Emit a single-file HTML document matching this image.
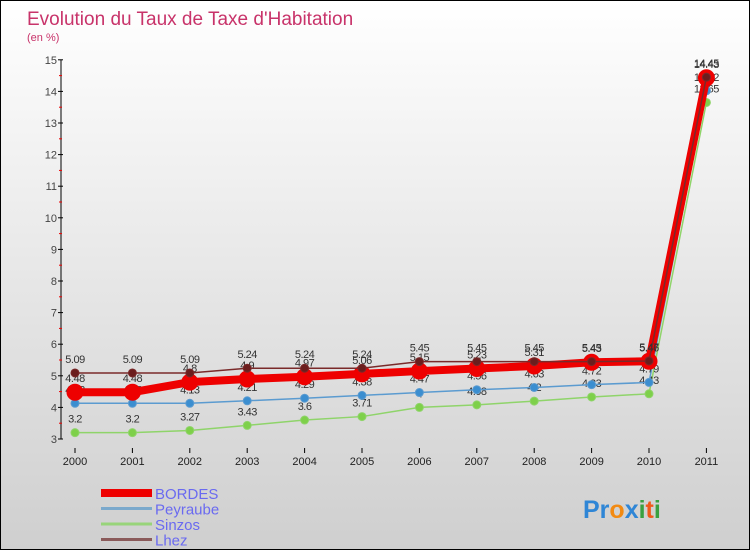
<!DOCTYPE html>
<html><head><meta charset="utf-8"><style>
body{margin:0;width:750px;height:550px;overflow:hidden;font-family:"Liberation Sans",sans-serif}
#wrap{position:relative;width:748px;height:548px;border:1px solid #000;background:linear-gradient(#ffffff,#cfcfcf)}
</style></head><body>
<div id="wrap">
<svg id="chart" width="748" height="548" style="position:absolute;left:0;top:0"></svg>
</div>
<script>
const years=["2000","2001","2002","2003","2004","2005","2006","2007","2008","2009","2010","2011"];
const bordes=[4.48,4.48,4.8,4.9,4.97,5.06,5.15,5.23,5.31,5.43,5.46,14.43];
const peyraube=[4.13,4.13,4.13,4.21,4.29,4.38,4.47,4.56,4.63,4.72,4.79,14.02];
const sinzos=[3.2,3.2,3.27,3.43,3.6,3.71,4,4.08,4.2,4.33,4.43,13.65];
const lhez=[5.09,5.09,5.09,5.24,5.24,5.24,5.45,5.45,5.45,5.45,5.47,14.45];
const yTicks=[3,4,5,6,7,8,9,10,11,12,13,14,15];
const seriesNames=["BORDES","Peyraube","Sinzos","Lhez"];

const NS="http://www.w3.org/2000/svg";
const svg=document.getElementById('chart');
function X(i){return 74+i*57.4;}
function Y(v){return 438-(v-3)*31.6;}
function el(t,a,p){const e=document.createElementNS(NS,t);for(const k in a)e.setAttribute(k,a[k]);(p||svg).appendChild(e);return e;}

let t=el('text',{x:26,y:24,'font-size':19,fill:'#c8336a'});


t.textContent="Evolution du Taux de Taxe d'Habitation";
t=el('text',{x:26,y:40,'font-size':11,fill:'#c8336a'});


t.textContent="(en %)";

// y axis
let ax=el('line',{x1:60,y1:Y(15),x2:60,y2:Y(3),stroke:'#000'});


yTicks.forEach(v=>{
  el('line',{x1:57,x2:62,y1:Y(v),y2:Y(v),stroke:'#000'});
  const tx=el('text',{x:56,y:Y(v)+4,'font-size':11,fill:'#444','text-anchor':'end'});
  
  
  tx.textContent=v;
  if(v<15) el('line',{x1:58,x2:61,y1:Y(v+0.5),y2:Y(v+0.5),stroke:'#e00'});
});
years.forEach((y,i)=>{
  el('line',{x1:X(i),x2:X(i),y1:447,y2:452,stroke:'#000'});
  const tx=el('text',{x:X(i),y:464,'font-size':11,fill:'#222','text-anchor':'middle'});
  
  
  tx.textContent=y;
});

function series(data,color,w,r,dot,name){
  const g=el('g',{});
  
  
  const pl=el('polyline',{points:data.map((v,i)=>X(i)+','+Y(v)).join(' '),fill:'none',stroke:color,'stroke-width':w},g);
  
  
  data.forEach((v,i)=>{
    const c=el('circle',{cx:X(i),cy:Y(v),r:r,fill:dot,stroke:color,'stroke-width':1},g);
    
    
    const tx=el('text',{x:X(i),y:Y(v)-10,'font-size':11,fill:'#333','text-anchor':'middle','letter-spacing':'-0.5'},g);
    
    
    tx.textContent=v;
  });
}
series(sinzos,'#8fd46a',1.5,4,'#7ed04a','sinzos');
series(peyraube,'#5b9bd0',1.5,4,'#3b8ed0','peyraube');
series(bordes,'#ee0000',8,8,'#ee0000','bordes');
series(lhez,'#7a2a2a',1.5,4,'#6b1e1e','lhez');

// legend
const lc=[['#ee0000',8],['#7ba9cc',3],['#98d47a',3],['#8a5a5a',3]];
seriesNames.forEach((n,i)=>{
  const y=492+i*15.5;
  const l=el('line',{x1:100,x2:151,y1:y,y2:y,stroke:lc[i][0],'stroke-width':lc[i][1]});
  
  
  const tx=el('text',{x:154,y:y+6,'font-size':15,fill:'#6a6af0'});
  
  
  tx.textContent=n;
});
// logo
const logo=el('text',{x:582,y:517,'font-size':25,'font-weight':'bold'});


[['Pr','#2f86d6'],['o','#f28a12'],['x','#2f86d6'],['i','#3aa040'],['t','#f05a1a'],['i','#3aa040']].forEach(p=>{const s=el('tspan',{fill:p[1]},logo);s.textContent=p[0];});
</script>
</body></html>
